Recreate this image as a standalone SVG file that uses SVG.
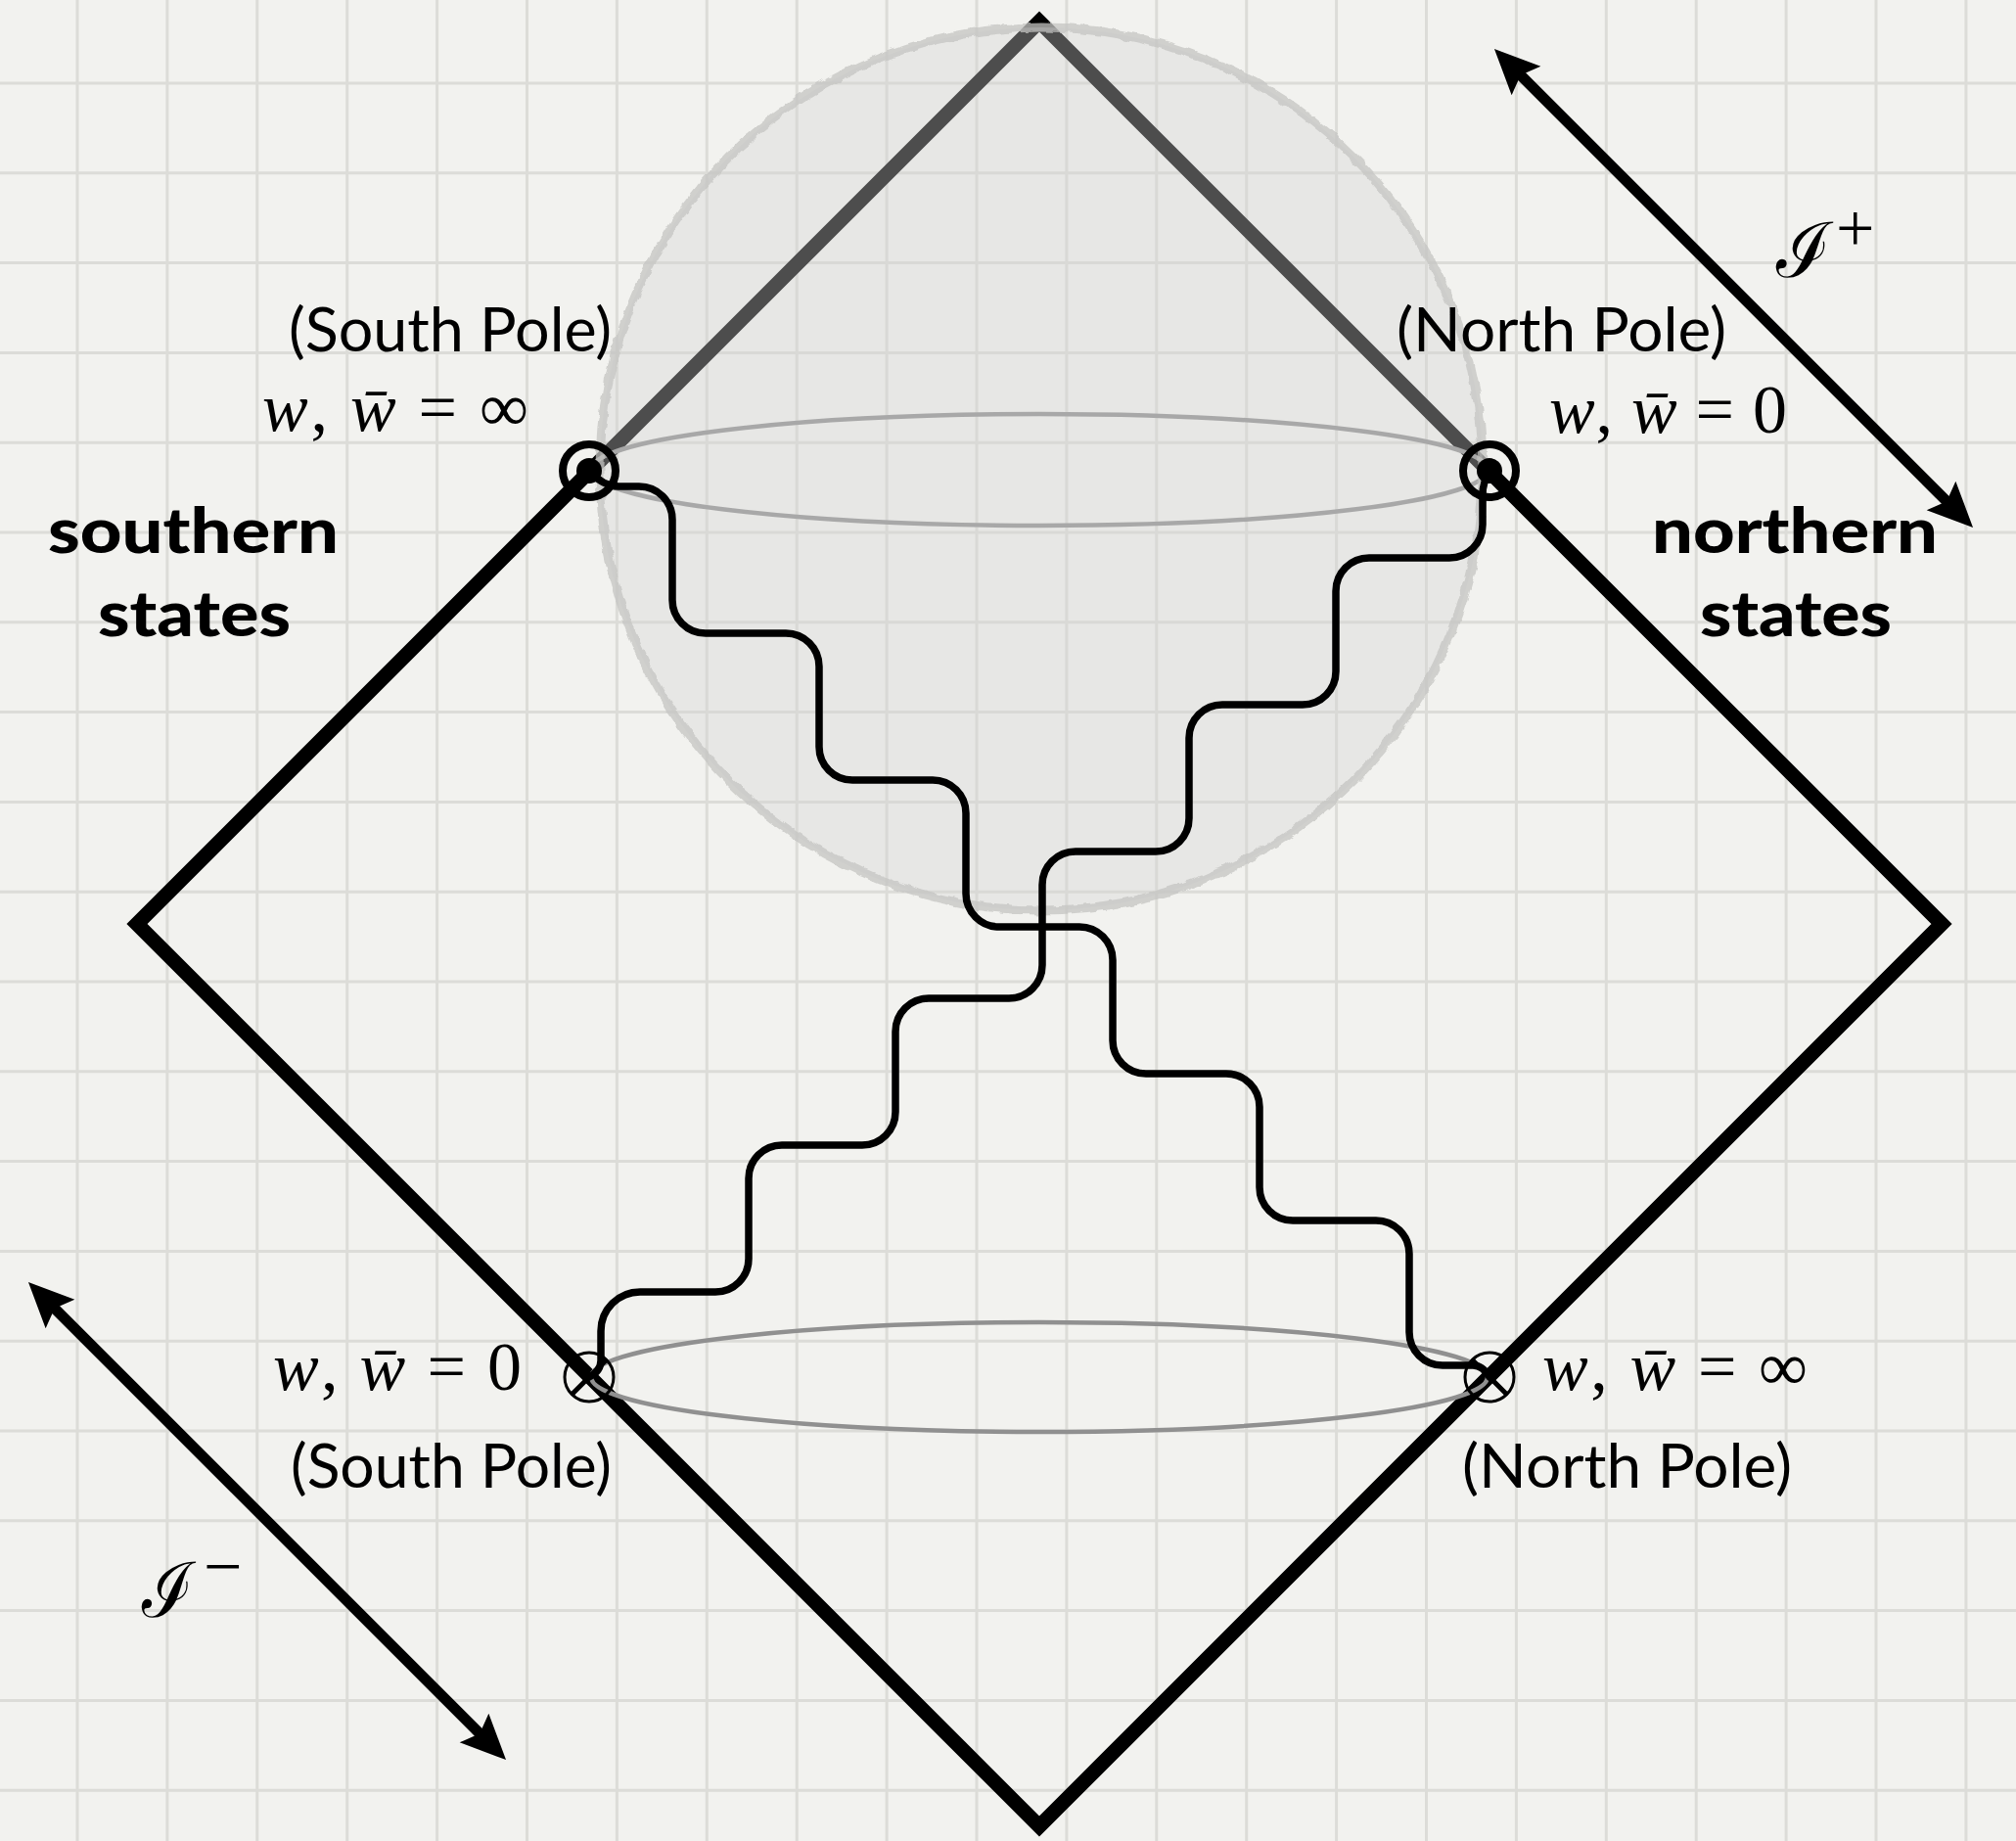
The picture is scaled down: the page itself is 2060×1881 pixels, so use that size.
<svg xmlns="http://www.w3.org/2000/svg" width="2060" height="1881" viewBox="0 0 2060 1881">
<defs>
<style>
.grid{stroke:#dcdcd8;stroke-width:3;fill:none}
.edge{stroke:#000;stroke-width:15;fill:none;stroke-linejoin:miter;stroke-miterlimit:10}
.equator{stroke:#909090;stroke-width:4.5;fill:none}
.wave{stroke:#000;stroke-width:7.5;fill:none;stroke-linecap:round;stroke-linejoin:round}
.ring{stroke:#000;stroke-width:8;fill:none}
.thin{stroke:#000;stroke-width:3;fill:none}
.cross{stroke:#000;stroke-width:5;fill:none}
.arrow{stroke:#000;stroke-width:11;fill:none}
.pole{font-family:"Lato","Liberation Sans",sans-serif;font-size:62px;fill:#000}
.states{font-family:"Lato","Liberation Sans",sans-serif;font-size:64px;font-weight:900;fill:#000}
.math{font-family:"Liberation Serif","DejaVu Serif",serif;font-size:70px;fill:#000}
.it{font-style:italic}
.scri{font-family:"Liberation Serif","DejaVu Serif",serif;font-size:78px;fill:#000}
</style>
<marker id="head" viewBox="-30 -25 55 50" refX="0" refY="0" markerWidth="55" markerHeight="50" markerUnits="userSpaceOnUse" orient="auto-start-reverse">
<path d="M20,0 L-26,-21 L-18,0 L-26,21 Z" fill="#000"/>
</marker>
<filter id="rough" x="-5%" y="-5%" width="110%" height="110%">
<feTurbulence type="fractalNoise" baseFrequency="0.09" numOctaves="2" seed="3" result="n"/>
<feDisplacementMap in="SourceGraphic" in2="n" scale="6" xChannelSelector="R" yChannelSelector="G"/>
</filter>
</defs>
<rect x="0" y="0" width="2060" height="1881" fill="#f2f2ef"/>
<g id="grid">
<path class="grid" d="M79 0V1881M170.9 0V1881M262.8 0V1881M354.7 0V1881M446.6 0V1881M538.5 0V1881M630.4 0V1881M722.3 0V1881M814.2 0V1881M906.1 0V1881M998 0V1881M1089.9 0V1881M1181.8 0V1881M1273.7 0V1881M1365.6 0V1881M1457.5 0V1881M1549.4 0V1881M1641.3 0V1881M1733.2 0V1881M1825.1 0V1881M1917 0V1881M2008.9 0V1881M0 85H2060M0 176.8H2060M0 268.6H2060M0 360.4H2060M0 452.2H2060M0 544H2060M0 635.8H2060M0 727.6H2060M0 819.4H2060M0 911.2H2060M0 1003H2060M0 1094.8H2060M0 1186.6H2060M0 1278.4H2060M0 1370.2H2060M0 1462H2060M0 1553.8H2060M0 1645.6H2060M0 1737.4H2060M0 1829.2H2060"/>
</g>
<g id="penrose-diamond">
<path class="edge" d="M1062 22 L1984 944 L1062 1866 L140 944 Z"/>
</g>
<g id="equators">
<ellipse class="equator" cx="1062" cy="480" rx="458" ry="57"/>
<ellipse class="equator" cx="1062" cy="1407" rx="458" ry="56"/>
</g>
<g id="sphere">
<circle cx="1064" cy="479" r="451" fill="rgb(211,211,211)" fill-opacity="0.364"/>
<circle cx="1064" cy="479" r="451" fill="none" stroke="#c4c4c2" stroke-opacity="0.75" stroke-width="9" filter="url(#rough)"/>
</g>
<g id="connectors">
<path class="wave" d="M602 481 C611 491 620 497 632 497 L653 497 A34 34 0 0 1 687 531 L687 613 A34 34 0 0 0 721 647 L803 647 A34 34 0 0 1 837 681 L837 763 A34 34 0 0 0 871 797 L953 797 A34 34 0 0 1 987 831 L987 913 A34 34 0 0 0 1021 947 L1103 947 A34 34 0 0 1 1137 981 L1137 1063 A34 34 0 0 0 1171 1097 L1253 1097 A34 34 0 0 1 1287 1131 L1287 1213 A34 34 0 0 0 1321 1247 L1406 1247 A34 34 0 0 1 1440 1281 L1440 1361 A34 34 0 0 0 1474 1395 L1505 1395 C1512 1395 1518 1400 1522 1407"/>
<path class="wave" d="M1522 481 C1517 490 1515 496 1515 505 L1515 536 A34 34 0 0 1 1481 570 L1399 570 A34 34 0 0 0 1365 604 L1365 686 A34 34 0 0 1 1331 720 L1249 720 A34 34 0 0 0 1215 754 L1215 836 A34 34 0 0 1 1181 870 L1099 870 A34 34 0 0 0 1065 904 L1065 986 A34 34 0 0 1 1031 1020 L949 1020 A34 34 0 0 0 915 1054 L915 1136 A34 34 0 0 1 881 1170 L799 1170 A34 34 0 0 0 765 1204 L765 1286 A34 34 0 0 1 731 1320 L654 1320 A40 40 0 0 0 614 1360 L614 1390 C614 1398 610 1403 602 1407"/>
<line class="arrow" x1="1541.1" y1="64.1" x2="2001.9" y2="524.9" marker-start="url(#head)" marker-end="url(#head)"/>
<line class="arrow" x1="43.1" y1="1324.1" x2="502.9" y2="1783.9" marker-start="url(#head)" marker-end="url(#head)"/>
</g>
<g id="south-pole-top">
<circle class="ring" cx="602" cy="481" r="27"/>
<circle cx="602" cy="481" r="13" fill="#000"/>
</g>
<g id="north-pole-top">
<circle class="ring" cx="1522" cy="481" r="27"/>
<circle cx="1522" cy="481" r="13" fill="#000"/>
</g>
<g id="south-pole-bottom">
<circle class="thin" cx="602" cy="1407" r="25"/>
<line class="cross" x1="585" y1="1424" x2="619" y2="1390"/>
</g>
<g id="north-pole-bottom">
<circle class="thin" cx="1522" cy="1407" r="25"/>
<line class="cross" x1="1505" y1="1390" x2="1539" y2="1424"/>
</g>
<g id="labels">
<text class="pole" x="295" y="359" textLength="330" lengthAdjust="spacingAndGlyphs">(South Pole)</text>
<text class="math" x="268" y="440" textLength="272" lengthAdjust="spacing"><tspan class="it">w</tspan>, <tspan class="it">w̄</tspan> = ∞</text>
<text class="pole" x="1427" y="359" textLength="337" lengthAdjust="spacingAndGlyphs">(North Pole)</text>
<text class="math" x="1583" y="442" textLength="243" lengthAdjust="spacing"><tspan class="it">w</tspan>, <tspan class="it">w̄</tspan> = 0</text>
<text class="math" x="279" y="1420" textLength="254" lengthAdjust="spacing"><tspan class="it">w</tspan>, <tspan class="it">w̄</tspan> = 0</text>
<text class="pole" x="297" y="1520" textLength="328" lengthAdjust="spacingAndGlyphs">(South Pole)</text>
<text class="math" x="1576" y="1420" textLength="271" lengthAdjust="spacing"><tspan class="it">w</tspan>, <tspan class="it">w̄</tspan> = ∞</text>
<text class="pole" x="1494" y="1520" textLength="337" lengthAdjust="spacingAndGlyphs">(North Pole)</text>
<text class="states" x="49" y="565" textLength="297" lengthAdjust="spacingAndGlyphs">southern</text>
<text class="states" x="100" y="650" textLength="197" lengthAdjust="spacingAndGlyphs">states</text>
<text class="states" x="1688" y="565" textLength="292" lengthAdjust="spacingAndGlyphs">northern</text>
<text class="states" x="1737" y="650" textLength="196" lengthAdjust="spacingAndGlyphs">states</text>
<text class="scri" x="1815" y="283" textLength="56" lengthAdjust="spacingAndGlyphs">ℐ</text>
<text class="math" x="1876" y="257" font-size="76">+</text>
<text class="scri" x="145" y="1652" textLength="53" lengthAdjust="spacingAndGlyphs">ℐ</text>
<text class="math" x="208" y="1624" font-size="76">−</text>
</g>
</svg>
